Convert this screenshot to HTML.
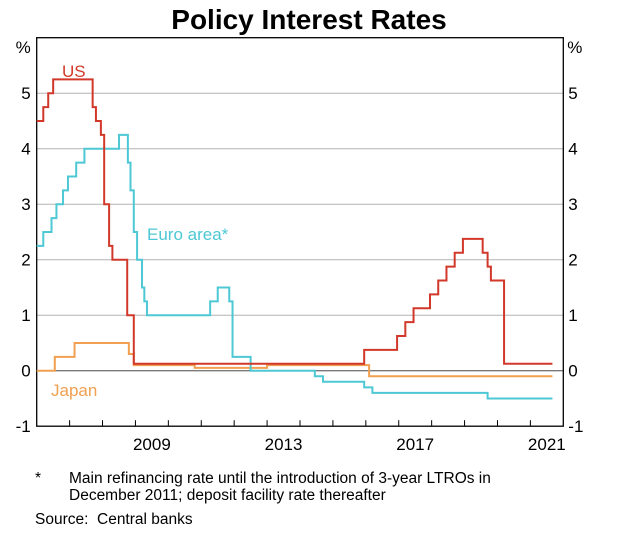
<!DOCTYPE html>
<html><head><meta charset="utf-8"><style>
body{margin:0;background:#fff;}
svg text{font-family:"Liberation Sans",Arial,sans-serif;}
</style></head><body>
<svg id="chart" width="618" height="548" viewBox="0 0 618 548" xmlns="http://www.w3.org/2000/svg">
<text x="309" y="29" text-anchor="middle" font-size="28" font-weight="bold">Policy Interest Rates</text>
<g id="grid"></g>
<g id="axes"></g>
<g id="series"></g>
<text x="62" y="77" font-size="17" fill="#d2382a">US</text>
<text x="147" y="240" font-size="17" fill="#4dc8d4">Euro area*</text>
<text x="51" y="396" font-size="17" fill="#f0a050">Japan</text>
<text x="35" y="483" font-size="15.5">*</text>
<text x="69" y="483" font-size="15.5">Main refinancing rate until the introduction of 3-year LTROs in</text>
<text x="69" y="500" font-size="15.5">December 2011; deposit facility rate thereafter</text>
<text x="35" y="524" font-size="15.5">Source:</text>
<text x="97" y="524" font-size="15.5">Central banks</text>
</svg>
<script>
const yTicks=[-1,0,1,2,3,4,5];
const xLabels=[2009,2013,2017,2021];
const usDates=[2006.0,2006.2,2006.35,2006.5,2007.7,2007.8,2007.95,2008.05,2008.1,2008.2,2008.3,2008.75,2008.85,2008.95,2015.95,2016.95,2017.2,2017.45,2017.95,2018.2,2018.45,2018.7,2018.95,2019.55,2019.7,2019.8,2020.2,2021.67];
const usRates=[4.5,4.75,5.0,5.25,4.75,4.5,4.25,3.0,3.0,2.25,2.0,1.0,1.0,0.125,0.375,0.625,0.875,1.125,1.375,1.625,1.875,2.125,2.375,2.125,1.875,1.625,0.125,0.125];
const euDates=[2006.0,2006.2,2006.45,2006.6,2006.8,2006.95,2007.2,2007.45,2008.5,2008.77,2008.85,2008.95,2009.05,2009.2,2009.27,2009.35,2011.27,2011.5,2011.85,2011.95,2012.5,2014.45,2014.7,2015.95,2016.2,2019.7,2021.67];
const euRates=[2.25,2.5,2.75,3.0,3.25,3.5,3.75,4.0,4.25,3.75,3.25,2.5,2.0,1.5,1.25,1.0,1.25,1.5,1.25,0.25,0.0,-0.1,-0.2,-0.3,-0.4,-0.5,-0.5];
const jpDates=[2006.0,2006.55,2007.15,2008.8,2008.95,2010.8,2013.0,2016.1,2021.67];
const jpRates=[0.0,0.25,0.5,0.3,0.1,0.05,0.1,-0.1,-0.1];
const L=36.7,R=563.3,T=37.7,B=426.2,x0=2006,x1=2022,y0=-1,y1=6;
function xs(v){return L+(v-x0)/(x1-x0)*(R-L);}
function ys(v){return B-(v-y0)/(y1-y0)*(B-T);}
const NS="http://www.w3.org/2000/svg";
function mk(tag,attrs,parent){const e=document.createElementNS(NS,tag);for(const k in attrs)e.setAttribute(k,attrs[k]);parent.appendChild(e);return e;}
const grid=document.getElementById('grid'),axes=document.getElementById('axes'),series=document.getElementById('series');
yTicks.forEach(v=>{
 if(v>0){const g=mk('line',{x1:L,x2:R,y1:ys(v),y2:ys(v),stroke:'#b4b4b4','stroke-width':1},grid);
 
 }
 if(v===0){const z=mk('line',{x1:L,x2:R,y1:ys(0),y2:ys(0),stroke:'#7a7a7a','stroke-width':1.3},grid);
 
 }
 const t1=mk('text',{x:L-6,y:ys(v)+6,'text-anchor':'end','font-size':17},axes);t1.textContent=v;
 
 
 const t2=mk('text',{x:R+5,y:ys(v)+6,'font-size':17},axes);t2.textContent=v;
 
 
});
const p1=mk('text',{x:L-6,y:53,'text-anchor':'end','font-size':17},axes);p1.textContent='%';


const p2=mk('text',{x:R+4,y:53,'font-size':17},axes);p2.textContent='%';


const box=mk('rect',{x:L,y:T,width:R-L,height:B-T,fill:'none',stroke:'#000','stroke-width':1.3},axes);


for(let yr=x0+1;yr<x1;yr++){const tk=mk('line',{x1:xs(yr),x2:xs(yr),y1:B,y2:B-6,stroke:'#000','stroke-width':1},axes);
 
 }
xLabels.forEach(yr=>{const t=mk('text',{x:xs(yr+0.5),y:B+24,'text-anchor':'middle','font-size':17},axes);t.textContent=yr;
 
 });
function step(d,r,color,name){let s='';for(let i=0;i<d.length;i++){const x=xs(d[i]),y=ys(r[i]);if(i===0)s+='M'+x+','+y;else s+='H'+x+'V'+y;}
 const p=mk('path',{d:s,fill:'none',stroke:color,'stroke-width':2},series);
 
 }
step(jpDates,jpRates,'#f0a050','japan-line');
step(euDates,euRates,'#4dc8d4','euro-area-line');
step(usDates,usRates,'#d2382a','us-line');
</script>
</body></html>
